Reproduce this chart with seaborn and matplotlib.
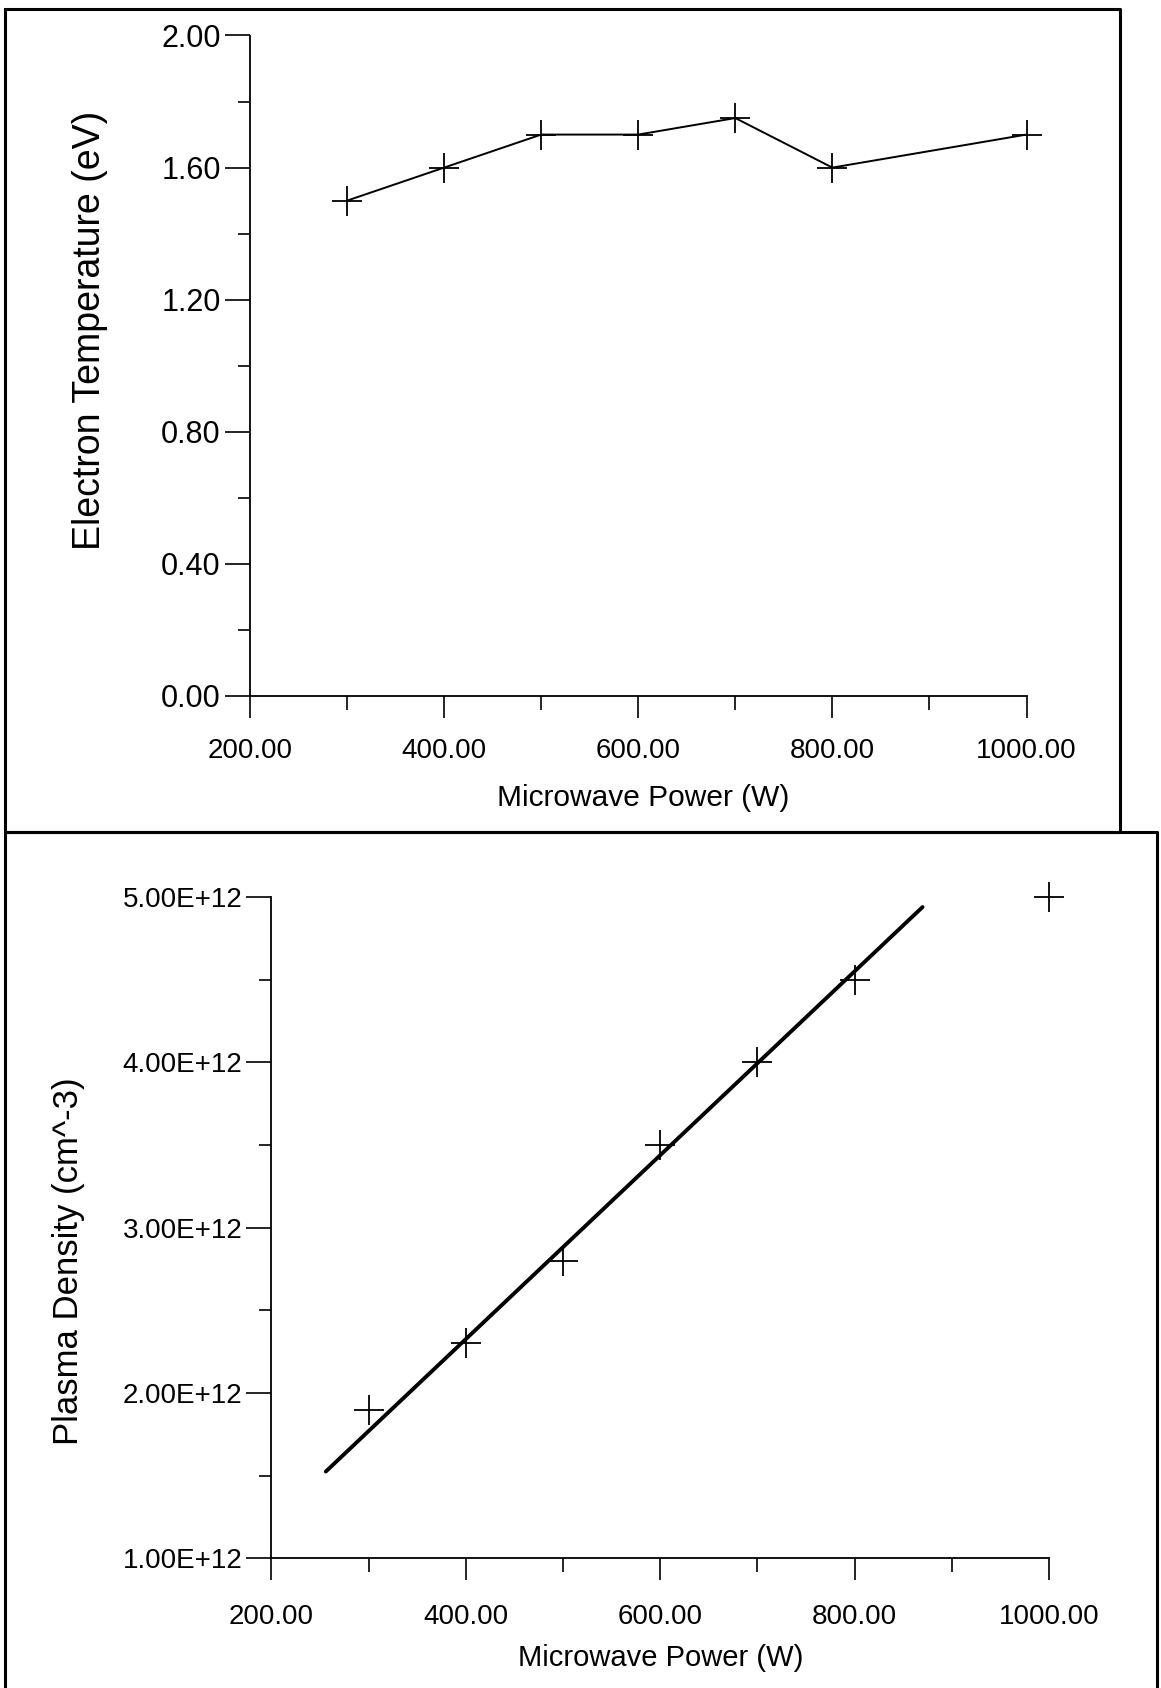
import numpy as np
import pandas as pd
import matplotlib
matplotlib.use("Agg")
import matplotlib.pyplot as plt
import seaborn as sns
from matplotlib.ticker import FuncFormatter, MultipleLocator
from matplotlib.lines import Line2D

# Measured data
power_w = [300, 400, 500, 600, 700, 800, 1000]
electron_temp_ev = [1.50, 1.60, 1.70, 1.70, 1.75, 1.60, 1.70]
plasma_density = [1.90e12, 2.30e12, 2.80e12, 3.50e12, 4.00e12, 4.50e12, 5.00e12]

# Linear model for the density trend (cm^-3 per W, cm^-3) and the span it is drawn over
fit_slope = 5.56e9
fit_intercept = 0.102e12
fit_span_w = [256, 870]

sns.set_theme(style="ticks")
plt.rcParams["font.family"] = ["Liberation Sans", "DejaVu Sans"]

W, H = 1161, 1688
fig = plt.figure(figsize=(W / 100, H / 100), dpi=100)

ax1 = fig.add_axes([250 / W, 1 - 696 / H, 776.5 / W, 660.5 / H])
ax2 = fig.add_axes([271.4 / W, 1 - 1558.4 / H, 777.5 / W, 661.4 / H])

df = pd.DataFrame({"power": power_w, "te": electron_temp_ev, "ne": plasma_density})

# Upper panel: electron temperature
sns.lineplot(data=df, x="power", y="te", ax=ax1, color="black", linewidth=1.4,
             marker="+", markersize=22, markeredgewidth=1.3, markeredgecolor="black",
             clip_on=False)

# Lower panel: plasma density with the linear trend
sns.scatterplot(data=df, x="power", y="ne", ax=ax2, color="black", marker="+",
                s=480, linewidth=1.3, clip_on=False)
fx = np.array(fit_span_w, dtype=float)
fit_df = pd.DataFrame({"power": fx, "ne": fit_intercept + fit_slope * fx})
sns.lineplot(data=fit_df, x="power", y="ne", ax=ax2, color="black", linewidth=2.8)


def style_axis(ax, ylim, ymaj, ymin, yfmt, xpad, yfs):
    ax.set_xlim(200, 1000)
    ax.set_ylim(*ylim)
    ax.xaxis.set_major_locator(MultipleLocator(200))
    ax.xaxis.set_minor_locator(MultipleLocator(100))
    ax.yaxis.set_major_locator(MultipleLocator(ymaj))
    ax.yaxis.set_minor_locator(MultipleLocator(ymin))
    ax.xaxis.set_major_formatter(FuncFormatter(lambda v, p: f"{v:.2f}"))
    ax.yaxis.set_major_formatter(FuncFormatter(yfmt))
    for s in ("top", "right"):
        ax.spines[s].set_visible(False)
    for s in ("left", "bottom"):
        ax.spines[s].set_linewidth(1.3)
        ax.spines[s].set_color("black")
    ax.tick_params(axis="both", which="both", direction="out", color="black", width=1.2)
    ax.tick_params(axis="y", which="major", length=18, pad=3)
    ax.tick_params(axis="y", which="minor", length=9)
    ax.tick_params(axis="x", which="major", length=16, pad=xpad)
    ax.tick_params(axis="x", which="minor", length=10)
    for lab in ax.get_xticklabels():
        lab.set_fontsize(20)
        lab.set_color("black")
    for lab in ax.get_yticklabels():
        lab.set_fontsize(yfs)
        lab.set_color("black")


style_axis(ax1, (0, 2.0), 0.4, 0.2, lambda v, p: f"{v:.2f}", 14, 22)
style_axis(ax2, (1e12, 5e12), 1e12, 0.5e12, lambda v, p: f"{v:.2E}", 17, 20)

ax1.set_xlabel("Microwave Power (W)", fontsize=21.5, color="black")
ax1.set_ylabel("Electron Temperature (eV)", fontsize=27, color="black")
ax2.set_xlabel("Microwave Power (W)", fontsize=21, color="black")
ax2.set_ylabel("Plasma Density (cm^-3)", fontsize=25, color="black")
ax1.xaxis.set_label_coords(0.507, -0.133)
ax1.yaxis.set_label_coords(-0.183, 0.553)
ax2.xaxis.set_label_coords(0.501, -0.13)
ax2.yaxis.set_label_coords(-0.24, 0.45)


def fig_line(xs, ys):
    fig.add_artist(Line2D([x / W for x in xs], [1 - y / H for y in ys],
                          transform=fig.transFigure, lw=2.2, color="black"))


# Panel frames (upper panel closed, lower panel runs off the page)
fig_line([5, 1120, 1120, 5, 5], [9, 9, 832, 832, 9])
fig_line([5, 5], [832, 1690])
fig_line([5, 1157, 1157], [832, 832, 1690])

fig.savefig("out.png", dpi=100, facecolor="white")
